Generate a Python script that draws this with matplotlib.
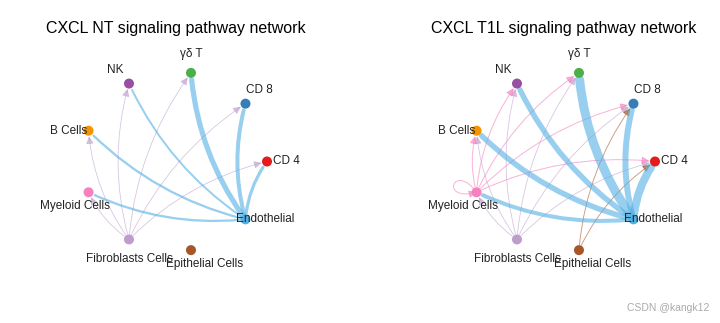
import numpy as np
import matplotlib
matplotlib.use("Agg")
import matplotlib.pyplot as plt
from matplotlib.patches import FancyArrowPatch
from matplotlib.path import Path

plt.rcParams['font.family'] = ['Liberation Sans', 'DejaVu Sans']

# cell groups, in circle order (counterclockwise from 0 deg)
cells = ['CD 4', 'CD 8', 'γδ T', 'NK', 'B Cells', 'Myeloid Cells',
         'Fibroblasts Cells', 'Epithelial Cells', 'Endothelial']
colors = ['#E41A1C', '#377EB8', '#4DAF4A', '#984EA3', '#F29403', '#F781BF',
          '#BC9DCC', '#A65628', '#54B0E4']

titles = ['CXCL NT signaling pathway network', 'CXCL T1L signaling pathway network']

# edges: (source, target, weight)
edges_nt = [
    ('Fibroblasts Cells', 'NK', 0.8),
    ('Fibroblasts Cells', 'γδ T', 0.8),
    ('Fibroblasts Cells', 'CD 8', 0.8),
    ('Fibroblasts Cells', 'CD 4', 0.8),
    ('Fibroblasts Cells', 'B Cells', 0.8),
    ('Fibroblasts Cells', 'Myeloid Cells', 0.8),
    ('Endothelial', 'Myeloid Cells', 2.3),
    ('Endothelial', 'B Cells', 2.3),
    ('Endothelial', 'NK', 2.0),
    ('Endothelial', 'CD 4', 3.2),
    ('Endothelial', 'CD 8', 4.0),
    ('Endothelial', 'γδ T', 5.2),
]
edges_t1l = [
    ('Fibroblasts Cells', 'NK', 0.8),
    ('Fibroblasts Cells', 'γδ T', 0.8),
    ('Fibroblasts Cells', 'CD 8', 0.8),
    ('Fibroblasts Cells', 'CD 4', 0.8),
    ('Fibroblasts Cells', 'B Cells', 0.8),
    ('Fibroblasts Cells', 'Myeloid Cells', 0.8),
    ('Epithelial Cells', 'CD 8', 0.9),
    ('Epithelial Cells', 'CD 4', 0.9),
    ('Myeloid Cells', 'Myeloid Cells', 1.0),
    ('Myeloid Cells', 'B Cells', 1.0),
    ('Myeloid Cells', 'NK', 1.0),
    ('Myeloid Cells', 'γδ T', 1.0),
    ('Myeloid Cells', 'CD 8', 1.0),
    ('Myeloid Cells', 'CD 4', 1.0),
    ('Endothelial', 'Myeloid Cells', 4.0),
    ('Endothelial', 'B Cells', 5.5),
    ('Endothelial', 'NK', 5.5),
    ('Endothelial', 'CD 4', 8.0),
    ('Endothelial', 'CD 8', 6.0),
    ('Endothelial', 'γδ T', 9.0),
]

W, H = 720, 323
fig = plt.figure(figsize=(W / 100, H / 100), dpi=100)

n = len(cells)
ang = np.deg2rad(np.arange(n) * 360 / n)
lab_ang = np.deg2rad(np.arange(n) * 360 / (n - 1))
px = np.cos(ang)
py = np.sin(ang)
idx = {c: i for i, c in enumerate(cells)}

rx, ry = 92, 90
centers = [175, 563]
head = '-|>,head_length=0.45,head_width=0.22'


def draw_panel(k, edges):
    cx = centers[k]
    ax = fig.add_axes([k * 0.5, 0, 0.5, 1])
    x0, x1 = k * W / 2, (k + 1) * W / 2
    ax.set_xlim((x0 - cx) / rx, (x1 - cx) / rx)
    ax.set_ylim(-(H - 161.5) / ry, 161.5 / ry)
    ax.axis('off')

    for s, t, w in edges:
        i, j = idx[s], idx[t]
        col = matplotlib.colors.to_rgba(colors[i], 0.6)
        lw = w * 0.72
        if i == j:
            a = np.deg2rad(160)
            L = 0.42
            p0 = (px[i], py[i])
            c1 = (px[i] + L * np.cos(a - 0.6), py[i] + L * np.sin(a - 0.6))
            c2 = (px[i] + L * np.cos(a + 0.6), py[i] + L * np.sin(a + 0.6))
            path = Path([p0, c1, c2, p0], [Path.MOVETO, Path.CURVE4, Path.CURVE4, Path.CURVE4])
            ax.add_patch(FancyArrowPatch(path=path, arrowstyle=head, mutation_scale=10,
                                         color=col, lw=lw, zorder=2))
        elif w < 1.5:
            ax.add_patch(FancyArrowPatch((px[i], py[i]), (px[j], py[j]),
                                         connectionstyle='arc3,rad=-0.14', arrowstyle=head,
                                         mutation_scale=10, color=col, lw=lw,
                                         shrinkA=4, shrinkB=4, zorder=2))
        else:
            # thick edges: the head disappears in the line
            ax.add_patch(FancyArrowPatch((px[i], py[i]), (px[j], py[j]),
                                         connectionstyle='arc3,rad=-0.14', arrowstyle='-',
                                         color=col, lw=lw, shrinkA=4, shrinkB=5, zorder=2))

    ax.scatter(px, py, s=52, c=colors, edgecolors='none', zorder=3)
    d = 0.215
    for i, c in enumerate(cells):
        ax.text(px[i] + d * np.cos(lab_ang[i]), py[i] + d * np.sin(lab_ang[i]), c,
                ha='center', va='center', fontsize=8.5, color='#222222', zorder=4)

    fig.text(cx / W + 0.5 / W, 1 - 28 / H, titles[k], ha='center', va='center',
             fontsize=11.5, color='black')


draw_panel(0, edges_nt)
draw_panel(1, edges_t1l)

fig.text(668 / W, 1 - 308 / H, 'CSDN @kangk12', ha='center', va='center',
         fontsize=7.5, color='#aaaaaa')

fig.savefig('out.png', dpi=100)
